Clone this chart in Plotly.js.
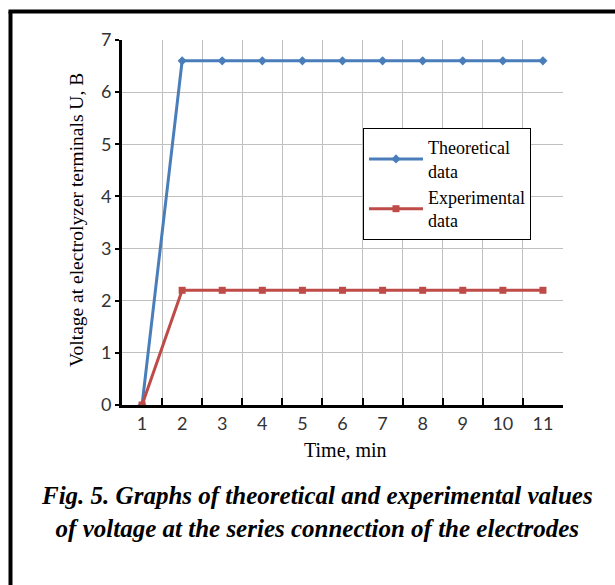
<!DOCTYPE html>
<html>
<head>
<meta charset="utf-8">
<script src="https://cdn.plot.ly/plotly-3.0.1.min.js"></script>
<style>html,body{margin:0;padding:0;background:#fff;}#chart{width:615px;height:585px;}</style>
</head>
<body>
<div id="chart"></div>
<script>
const timeMin = [1, 2, 3, 4, 5, 6, 7, 8, 9, 10, 11];
const theoretical = [0, 6.6, 6.6, 6.6, 6.6, 6.6, 6.6, 6.6, 6.6, 6.6, 6.6];
const experimental = [0, 2.2, 2.2, 2.2, 2.2, 2.2, 2.2, 2.2, 2.2, 2.2, 2.2];
const yTicks = [0, 1, 2, 3, 4, 5, 6, 7];

const W = 615, H = 585, L = 122, R = 52, T = 40, B = 180;
const pw = W - L - R, ph = H - T - B;
const px = x => (x - L) / pw;
const py = y => (H - B - y) / ph;

const serif = 'Liberation Serif, Times New Roman, serif';
const sans = 'Lato, Carlito, Liberation Sans, sans-serif';

const traces = [
  {x: timeMin, y: theoretical, type: 'scatter', mode: 'lines+markers', name: 'Theoretical<br>data',
   line: {color: '#4a7ebb', width: 3}, marker: {symbol: 'diamond', size: 7, color: '#4a7ebb'}, legendrank: 1},
  {x: timeMin, y: experimental, type: 'scatter', mode: 'lines+markers', name: 'Experimental<br>data',
   line: {color: '#be4b48', width: 3}, marker: {symbol: 'square', size: 7, color: '#be4b48'}, legendrank: 2}
];

const layout = {
  width: W, height: H,
  margin: {l: L, r: R, t: T, b: B},
  paper_bgcolor: '#fff', plot_bgcolor: '#fff',
  showlegend: true,
  legend: {x: px(363), y: py(128), xanchor: 'left', yanchor: 'top',
    bordercolor: '#000', borderwidth: 1, bgcolor: '#fff', itemwidth: 54,
    font: {family: serif, size: 18, color: '#000'}, tracegroupgap: 0},
  xaxis: {range: [0.5, 11.5], tickmode: 'array', tickvals: timeMin, ticktext: timeMin.map(String),
    showgrid: false, zeroline: false, showline: true, linecolor: '#000', linewidth: 3,
    ticks: '', tickfont: {family: sans, size: 18, color: '#333'}, fixedrange: true},
  xaxis2: {range: [0.5, 11.5], overlaying: 'x', anchor: 'y', side: 'bottom', tick0: 0.5, dtick: 1,
    showgrid: true, gridcolor: '#c0c0c0', gridwidth: 1, showticklabels: false, zeroline: false,
    ticks: 'inside', ticklen: 7, tickwidth: 2, tickcolor: '#000', showline: false},
  yaxis: {range: [0, 7], tickmode: 'array', tickvals: yTicks, showgrid: true, gridcolor: '#c0c0c0',
    zeroline: false, showline: true, linecolor: '#000', linewidth: 3,
    ticks: 'outside', ticklen: 4, tickwidth: 2, tickcolor: '#000',
    tickfont: {family: sans, size: 18, color: '#333'}, fixedrange: true},
  shapes: [
    {type: 'line', xref: 'paper', yref: 'paper', x0: px(10.5), x1: px(10.5), y0: py(11.5), y1: py(700), line: {color: '#000', width: 4}},
    {type: 'line', xref: 'paper', yref: 'paper', x0: px(8.5), x1: px(700), y0: py(11.5), y1: py(11.5), line: {color: '#000', width: 4}}
  ],
  annotations: [
    {text: 'Voltage at electrolyzer terminals U, B', xref: 'paper', yref: 'paper', x: px(76), y: py(220),
     textangle: -90, showarrow: false, xanchor: 'center', yanchor: 'middle',
     font: {family: serif, size: 19.5, color: '#000'}},
    {text: 'Time, min', xref: 'paper', yref: 'paper', x: px(345), y: py(450), showarrow: false,
     xanchor: 'center', yanchor: 'middle', font: {family: serif, size: 20, color: '#000'}},
    {text: '<b><i>Fig. 5. Graphs of theoretical and experimental values<br>of voltage at the series connection of the electrodes</i></b>',
     xref: 'paper', yref: 'paper', x: px(317), y: py(512), showarrow: false, xanchor: 'center', yanchor: 'middle',
     align: 'center', font: {family: serif, size: 25, color: '#000'}}
  ]
};

traces.push({x: [1], y: [0], xaxis: 'x2', yaxis: 'y', type: 'scatter', mode: 'markers', showlegend: false,
  hoverinfo: 'skip', marker: {opacity: 0}});

Plotly.newPlot('chart', traces, layout, {staticPlot: true});
</script>
</body>
</html>
